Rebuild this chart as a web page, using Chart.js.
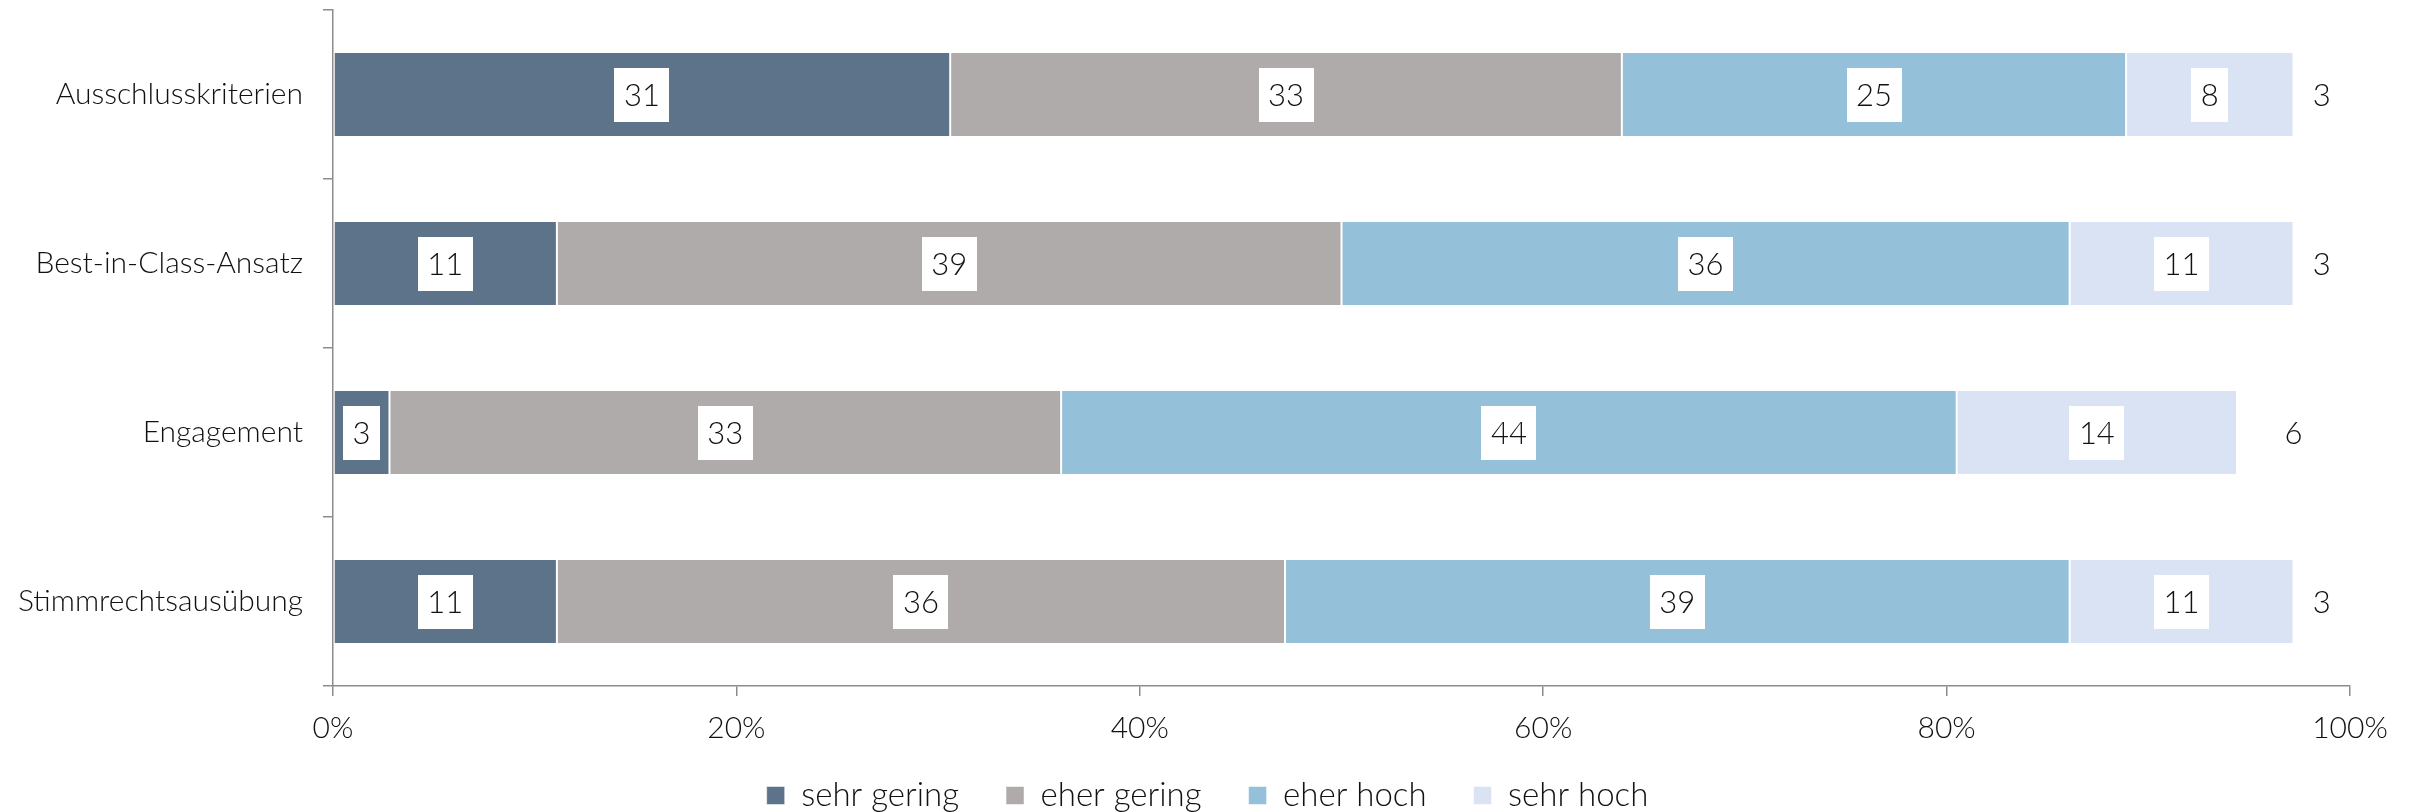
<html>

<head>
  <meta charset="utf-8">
  <title>Bewertung nachhaltiger Anlagestrategien</title>
  <script src="https://cdn.jsdelivr.net/npm/chart.js@4.4.1/dist/chart.umd.min.js"></script>
  <style>
    body { margin: 0; background: #ffffff; }
    #wrap { width: 2415px; height: 812px; }
  </style>
</head>

<body>
  <div id="wrap"><canvas id="strategyChart"></canvas></div>

  <script>
    // data (percent of answers)
    const categories = ["Ausschlusskriterien", "Best-in-Class-Ansatz", "Engagement", "Stimmrechtsausübung"];
    const seriesNames = ["sehr gering", "eher gering", "eher hoch", "sehr hoch", "keine Angabe"];
    const sehrGering = [30.6, 11.1, 2.8, 11.1];
    const eherGering = [33.3, 38.9, 33.3, 36.1];
    const eherHoch = [25.0, 36.1, 44.4, 38.9];
    const sehrHoch = [8.3, 11.1, 13.9, 11.1];
    const keineAngabe = [2.8, 2.8, 5.6, 2.8];
    const xTicks = [0, 20, 40, 60, 80, 100];

    const colors = ["#5d7389", "#afabaa", "#95c0d9", "#dae3f3", "rgba(0,0,0,0)"];
    const values = [sehrGering, eherGering, eherHoch, sehrHoch, keineAngabe];
    const fontFamily = "Lato, 'Open Sans', sans-serif";

    const datasets = [];
    for (let i = 0; i < values.length; i++) {
      datasets.push({
        label: seriesNames[i],
        data: values[i],
        backgroundColor: colors[i],
        borderColor: "#ffffff",
        borderWidth: i < 4 ? { left: 1, right: 1, top: 0, bottom: 0 } : 0,
        borderSkipped: false,
        categoryPercentage: 0.5,
        barPercentage: 0.98
      });
    }

    // white boxes with the rounded numbers in every segment
    const valueLabels = {
      id: "valueLabels",
      afterDatasetsDraw(chart) {
        const ctx = chart.ctx;
        ctx.save();
        ctx.font = "300 31px " + fontFamily;
        ctx.textAlign = "center";
        ctx.textBaseline = "middle";
        chart.data.datasets.forEach((ds, i) => {
          const meta = chart.getDatasetMeta(i);
          meta.data.forEach((bar, j) => {
            const txt = String(Math.round(ds.data[j]));
            const cx = (bar.x + bar.base) / 2;
            const cy = bar.y;
            if (i < 4) {
              const w = ctx.measureText(txt).width + 19;
              ctx.fillStyle = "#ffffff";
              ctx.fillRect(Math.round(cx - w / 2), Math.round(cy - 27), Math.round(w), 54);
            }
            ctx.fillStyle = "#111111";
            ctx.fillText(txt, cx, cy + 1);
          });
        });
        ctx.restore();
      }
    };

    // fixed legend height so it sits close under the tick labels
    const legendHeight = {
      id: "legendHeight",
      beforeInit(chart) {
        const fit = chart.legend.fit;
        chart.legend.fit = function () {
          fit.bind(chart.legend)();
          this.height = 80;
        };
      }
    };

    // tick labels may run outside the (fixed size) axis boxes
    const noLabelClip = (scale) => { scale._computeLabelArea = () => undefined; };

    new Chart(document.getElementById("strategyChart").getContext("2d"), {
      type: "bar",
      data: { labels: categories, datasets: datasets },
      options: {
        indexAxis: "y",
        responsive: true,
        maintainAspectRatio: false,
        animation: false,
        layout: { padding: { top: 10, left: 65, right: 65, bottom: 0 } },
        scales: {
          x: {
            stacked: true,
            min: 0,
            max: 100,
            afterBuildTicks(scale) { scale.ticks = xTicks.map(v => ({ value: v })); },
            afterFit(scale) {
              scale.height = 46;
              noLabelClip(scale);
            },
            grid: { drawOnChartArea: false, tickLength: 10, color: "#8c8c8c", lineWidth: 1.5 },
            border: { color: "#8c8c8c", width: 1.5 },
            ticks: {
              padding: 14,
              color: "#111111",
              font: { family: fontFamily, size: 30, weight: 300 },
              callback: (v) => v + "%"
            }
          },
          y: {
            stacked: true,
            afterFit(scale) {
              scale.width = 268;
              scale.paddingTop = 0;
              scale.paddingBottom = 0;
              noLabelClip(scale);
            },
            grid: { drawOnChartArea: false, offset: true, tickLength: 10, color: "#8c8c8c", lineWidth: 1.5 },
            border: { color: "#8c8c8c", width: 1.5 },
            ticks: {
              padding: 20,
              color: "#111111",
              font: { family: fontFamily, size: 30, weight: 300 }
            }
          }
        },
        plugins: {
          tooltip: { enabled: false },
          legend: {
            position: "bottom",
            labels: {
              filter: (item) => item.datasetIndex < 4,
              boxWidth: 18,
              boxHeight: 18,
              padding: 47,
              color: "#111111",
              font: { family: fontFamily, size: 33, weight: 300 }
            }
          }
        }
      },
      plugins: [valueLabels, legendHeight]
    });
  </script>
</body>

</html>
